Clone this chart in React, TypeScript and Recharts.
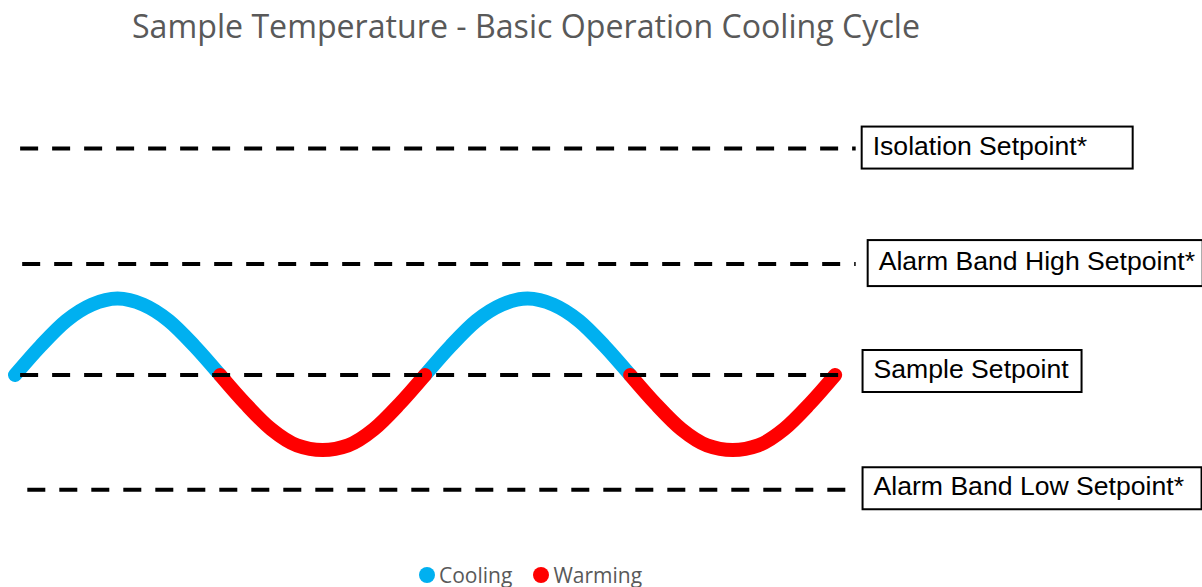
import { LineChart, Line, XAxis, YAxis, ReferenceLine } from "recharts";

// time in quarter-periods of the cooling cycle
const times = [
  0, 0.25, 0.5, 0.75, 1, 1.25, 1.5, 1.75, 2, 2.25, 2.5, 2.75, 3, 3.25, 3.5, 3.75, 4,
  4.25, 4.5, 4.75, 5, 5.25, 5.5, 5.75, 6, 6.25, 6.5, 6.75, 7, 7.25, 7.5, 7.75, 8,
];

// temperature relative to sample setpoint (peak = 1)
const cooling = [
  0, 0.38, 0.71, 0.92, 1, 0.92, 0.71, 0.38, 0,
  null, null, null, null, null, null, null,
  0, 0.38, 0.71, 0.92, 1, 0.92, 0.71, 0.38, 0,
  null, null, null, null, null, null, null, null,
];
const warming = [
  null, null, null, null, null, null, null, null,
  0, -0.38, -0.71, -0.92, -0.98, -0.92, -0.71, -0.38, 0,
  null, null, null, null, null, null, null,
  0, -0.38, -0.71, -0.92, -0.98, -0.92, -0.71, -0.38, 0,
];

const setpointNames = [
  "Isolation Setpoint*",
  "Alarm Band High Setpoint*",
  "Sample Setpoint",
  "Alarm Band Low Setpoint*",
];
const setpointValues = [2.96, 1.45, 0, -1.5];
const setpointStart = [0.05, 0.07, 0.05, 0.12];
const setpointEnd = [8.2, 8.2, 8.15, 8.15];

const seriesNames = ["Cooling", "Warming"];

// box look for each label
const boxStyle = [
  { gap: 6, width: 271, height: 42, shift: -1 },
  { gap: 12, width: 335, height: 46, shift: -1 },
  { gap: 12, width: 219, height: 42, shift: -4 },
  { gap: 12, width: 339, height: 42, shift: -1.5 },
];

const COOL = "#00B0F0";
const WARM = "#FF0000";
const colors = [COOL, WARM];

const data = times.map((t, i) => ({ t, cooling: cooling[i], warming: warming[i] }));

const SetpointBox = (props: any) => {
  const { viewBox, index } = props;
  if (!viewBox) return null;
  const s = boxStyle[index];
  const x = viewBox.x + (viewBox.width || 0) + s.gap;
  const cy = viewBox.y + s.shift;
  return (
    <g>
      <rect
        x={x}
        y={cy - s.height / 2}
        width={s.width}
        height={s.height}
        fill="#fff"
        stroke="#000"
        strokeWidth={2}
      />
      <text
        x={x + 11}
        y={cy + 7}
        fontSize={26.6}
        fontFamily="'Liberation Sans', Arial, sans-serif"
        fill="#000"
      >
        {setpointNames[index]}
      </text>
    </g>
  );
};

export default function App() {
  return (
    <div style={{ position: "absolute", left: 0, top: 0, width: 1202, height: 587, background: "#fff" }}>
      <svg width={1202} height={60} style={{ position: "absolute", left: 0, top: 0 }}>
        <text
          x={132}
          y={38}
          fontSize={33}
          fontFamily="'Open Sans', sans-serif"
          fill="#595959"
          textLength={788}
          lengthAdjust="spacingAndGlyphs"
        >
          Sample Temperature - Basic Operation Cooling Cycle
        </text>
      </svg>
      <LineChart
        width={1202}
        height={587}
        data={data}
        margin={{ top: 69, right: 8, bottom: 59, left: 15 }}
      >
        <XAxis type="number" dataKey="t" domain={[0, 11.5]} hide />
        <YAxis type="number" domain={[-2, 4]} hide />
        <Line
          dataKey="cooling"
          name="Cooling"
          type="monotone"
          stroke={COOL}
          strokeWidth={14}
          strokeLinecap="round"
          dot={false}
          activeDot={false}
          connectNulls={false}
          isAnimationActive={false}
        />
        <Line
          dataKey="warming"
          name="Warming"
          type="monotone"
          stroke={WARM}
          strokeWidth={14}
          strokeLinecap="round"
          dot={false}
          activeDot={false}
          connectNulls={false}
          isAnimationActive={false}
        />
        {setpointValues.map((v, i) => (
          <ReferenceLine
            key={setpointNames[i]}
            segment={[
              { x: setpointStart[i], y: v },
              { x: setpointEnd[i], y: v },
            ]}
            stroke="#000"
            strokeWidth={4}
            strokeDasharray="18 14"
            ifOverflow="visible"
            label={<SetpointBox index={i} />}
          />
        ))}
      </LineChart>
      <div
        style={{
          position: "absolute",
          left: 419,
          top: 561,
          display: "flex",
          gap: 21,
          fontFamily: "'Open Sans', sans-serif",
          fontSize: 21,
          color: "#595959",
        }}
      >
        {seriesNames.map((name, i) => (
          <div key={name} style={{ display: "flex", alignItems: "center", gap: 4 }}>
            <span
              style={{ width: 16, height: 16, borderRadius: "50%", background: colors[i], display: "inline-block" }}
            />
            <span>{name}</span>
          </div>
        ))}
      </div>
    </div>
  );
}
